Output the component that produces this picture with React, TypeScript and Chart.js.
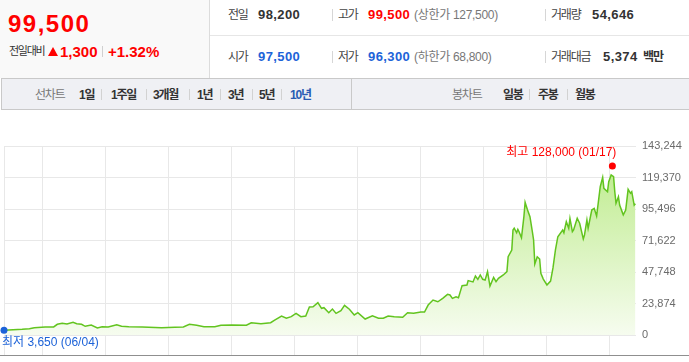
import React, { useEffect, useRef } from "react";
import { Chart, registerables } from "chart.js";

Chart.register(...registerables);

// ---- chart data (x = weeks since the first trading week, y = weekly close, KRW) ----
const weeks = [
  0, 15, 21, 25, 34, 41, 44, 48, 52, 57, 60, 64, 67, 72, 77, 81, 86, 93, 97, 103,
  114, 130, 141, 148, 153, 159, 165, 174, 179, 188, 200, 204, 212, 220, 223, 229, 233, 237, 241, 245,
  249, 252, 255, 259, 262, 264, 268, 271, 274, 278, 281, 285, 289, 292, 298, 304, 309, 313, 317, 322,
  329, 333, 338, 344, 347, 350, 354, 358, 362, 366, 368, 370, 373, 375, 378, 382, 383, 387, 389, 391,
  393, 395, 397, 399, 401, 404, 406, 408, 412, 415, 416, 419, 420, 421, 423, 424, 425, 427, 429, 430,
  432, 434, 436, 437, 438, 440, 442, 443, 445, 448, 451, 453, 455, 457, 461, 462, 464, 466, 467, 469,
  470, 473, 475, 478, 479, 481, 482, 485, 487, 489, 492, 494, 495, 498, 499, 501, 503, 504, 505, 507,
  508, 510, 511, 513, 515, 517, 518, 520, 521,
];
const closes = [
  3650, 4300, 4800, 5500, 6100, 6100, 8100, 8900, 8300, 9600, 8600, 8100, 6600, 7600, 5300, 6300, 6100, 7800, 6600, 6300,
  6100, 5500, 5800, 6100, 8100, 7400, 6300, 6300, 7400, 7600, 7400, 9300, 8600, 9300, 11100, 14400, 12700, 13900, 16400, 13900,
  14400, 21200, 21400, 24500, 20200, 20700, 16900, 19700, 16400, 18400, 22500, 19500, 15200, 16900, 12100, 14600, 12700, 12700, 14400, 13900,
  13400, 16900, 16400, 17400, 17400, 22700, 26500, 25200, 27800, 30800, 30300, 27800, 29000, 28300, 37400, 37900, 41200, 40200, 44700, 42200,
  45500, 42200, 41700, 48000, 37100, 43700, 40400, 43000, 45500, 48000, 59300, 64400, 79600, 80900, 77500, 80100, 78300, 73700, 89700, 100600,
  94700, 89700, 78100, 72000, 53800, 59300, 57600, 46800, 42400, 37900, 40900, 50800, 64400, 74500, 79600, 77500, 85900, 80900, 88400, 78300,
  79600, 88400, 84700, 72800, 75800, 87200, 80900, 94700, 96000, 90200, 112400, 119500, 111200, 108600, 116200, 121300, 120000, 108600, 99800, 104800,
  98500, 93500, 91000, 94700, 110400, 107400, 108600, 98500, 99500,
];
const yTicks = [0, 23874, 47748, 71622, 95496, 119370, 143244];
const yearStartWeeks = [0, 31.5, 83.5, 135.5, 187.5, 239.5, 291.5, 343.5, 395.5, 447.5, 499.5];
const weekSpan = 521.5;
const highWeek = 502;
const highValue = 128000;
const highLabel = "최고 128,000 (01/17)";
const lowWeek = 0;
const lowValue = 3650;
const lowLabel = "최저 3,650 (06/04)";

// ---- header data ----
const headerPrice = "99,500";
const headerChange = "1,300";
const headerRate = "+1.32%";
const rowOne = [
  { label: "전일", value: "98,200", color: "#333" },
  { label: "고가", value: "99,500", color: "#f00", note: "(상한가 127,500)" },
  { label: "거래량", value: "54,646", color: "#333" },
];
const rowTwo = [
  { label: "시가", value: "97,500", color: "#1d63d8" },
  { label: "저가", value: "96,300", color: "#1d63d8", note: "(하한가 68,800)" },
  { label: "거래대금", value: "5,374", color: "#333", unit: "백만" },
];
const lineTabs = ["1일", "1주일", "3개월", "1년", "3년", "5년", "10년"];
const candleTabs = ["일봉", "주봉", "월봉"];

const FONT = '"Liberation Sans", Arial, "Noto Sans CJK KR", sans-serif';
const RED = "#f00";
const BLUE = "#1d63d8";
const LINE_GREEN = "#62c41f";

type TxtProps = {
  x: number;
  cy: number;
  size: number;
  color: string;
  bold?: boolean;
  ls?: number;
  children: React.ReactNode;
};

function Txt({ x, cy, size, color, bold, ls, children }: TxtProps) {
  return (
    <span
      style={{
        position: "absolute",
        left: x,
        top: cy - size / 2,
        fontSize: size,
        lineHeight: `${size}px`,
        height: size,
        color,
        fontWeight: bold ? 700 : 400,
        letterSpacing: ls ?? 0,
        whiteSpace: "nowrap",
        fontFamily: FONT,
      }}
    >
      {children}
    </span>
  );
}

function Sep({ x, top, h, color }: { x: number; top: number; h: number; color?: string }) {
  return (
    <div
      style={{
        position: "absolute",
        left: x,
        top,
        width: 1,
        height: h,
        background: color ?? "#d6d6d6",
      }}
    />
  );
}

const markerLabels = {
  id: "markerLabels",
  afterDatasetsDraw(chart: any) {
    const { ctx, scales } = chart;
    const x = scales.x;
    const y = scales.y;
    ctx.save();
    ctx.font = `12px ${FONT}`;
    ctx.textBaseline = "middle";
    const hx = x.getPixelForValue(highWeek);
    const hy = y.getPixelForValue(highValue);
    ctx.fillStyle = RED;
    ctx.textAlign = "right";
    ctx.fillText(highLabel, hx + 4, hy - 13);
    const lx = x.getPixelForValue(lowWeek);
    const ly = y.getPixelForValue(lowValue);
    ctx.fillStyle = BLUE;
    ctx.textAlign = "left";
    ctx.fillText(lowLabel, lx - 2, ly + 13);
    ctx.restore();
  },
};

function PriceChart() {
  const ref = useRef<HTMLCanvasElement | null>(null);
  useEffect(() => {
    if (!ref.current) return;
    const linePoints = weeks.map((w, i) => ({ x: w, y: closes[i] }));
    const chart = new Chart(ref.current, {
      type: "line",
      data: {
        datasets: [
          {
            type: "scatter",
            data: [{ x: highWeek, y: highValue }],
            pointRadius: 3.5,
            pointBackgroundColor: RED,
            pointBorderWidth: 0,
            clip: false as any,
            order: 0,
          } as any,
          {
            type: "scatter",
            data: [{ x: lowWeek, y: lowValue }],
            pointRadius: 3.5,
            pointBackgroundColor: BLUE,
            pointBorderWidth: 0,
            clip: false as any,
            order: 0,
          } as any,
          {
            type: "line",
            data: linePoints,
            borderColor: LINE_GREEN,
            borderWidth: 1.5,
            pointRadius: 0,
            tension: 0,
            fill: "origin",
            order: 1,
            backgroundColor: (c: any) => {
              const area = c.chart.chartArea;
              if (!area) return "rgba(190,236,140,0.5)";
              const g = c.chart.ctx.createLinearGradient(0, area.top, 0, area.bottom);
              g.addColorStop(0, "#b9ea84");
              g.addColorStop(1, "#f6fcef");
              return g;
            },
          },
        ],
      },
      options: {
        animation: false,
        responsive: false,
        layout: { padding: { left: 2, right: 0, top: 36, bottom: 7 } },
        plugins: { legend: { display: false }, tooltip: { enabled: false } },
        scales: {
          x: {
            type: "linear",
            position: "bottom",
            min: 0,
            max: weekSpan,
            afterBuildTicks: (s: any) => {
              s.ticks = yearStartWeeks.map((v) => ({ value: v }));
            },
            afterFit: (s: any) => {
              s.height = 20;
            },
            ticks: { display: false },
            grid: { color: "#e8e8e8", drawTicks: true, tickLength: 20, lineWidth: 1 },
            border: { display: false },
          },
          y: {
            type: "linear",
            position: "right",
            min: 0,
            max: yTicks[yTicks.length - 1],
            afterBuildTicks: (s: any) => {
              s.ticks = yTicks.map((v) => ({ value: v }));
            },
            afterFit: (s: any) => {
              s.width = 53;
            },
            ticks: {
              padding: 6,
              color: "#6b6b6b",
              font: { size: 11, family: FONT },
              callback: (v: any) => Number(v).toLocaleString("en-US"),
            },
            grid: { color: "#e8e8e8", drawTicks: false },
            border: { display: false },
          },
        },
      },
      plugins: [markerLabels],
    } as any);
    return () => chart.destroy();
  }, []);
  return <canvas ref={ref} width={689} height={252} style={{ display: "block" }} />;
}

export default function App() {
  const rowXs = [
    { label: 228, value: 258, note: 0 },
    { label: 338, value: 368, note: 414 },
    { label: 551, value: 592, note: 0 },
  ];
  const lineTabXs = [79, 111, 153, 197, 228, 259, 290];
  const lineSepXs = [101, 146, 189, 220, 252, 281];
  const candleTabXs = [503, 538, 575];
  const candleSepXs = [529, 567];

  const renderRow = (row: any[], cy: number) =>
    row.map((r, i) => (
      <React.Fragment key={r.label}>
        <Txt x={rowXs[i].label} cy={cy} size={12} color="#444" ls={-1.2}>
          {r.label}
        </Txt>
        <Txt x={i === 2 && r.unit ? 603 : rowXs[i].value} cy={cy} size={13} color={r.color} bold ls={0.4}>
          {r.value}
        </Txt>
        {r.note ? (
          <Txt x={rowXs[i].note} cy={cy} size={12} color="#777" ls={-0.3}>
            {r.note}
          </Txt>
        ) : null}
        {r.unit ? (
          <Txt x={643} cy={cy} size={12} color="#333" bold ls={-1}>
            {r.unit}
          </Txt>
        ) : null}
      </React.Fragment>
    ));

  return (
    <div
      style={{
        position: "absolute",
        left: 0,
        top: 0,
        width: 689,
        height: 362,
        background: "#fff",
        overflow: "hidden",
        fontFamily: FONT,
      }}
    >
      {/* left price panel */}
      <div
        style={{
          position: "absolute",
          left: 0,
          top: 0,
          width: 209,
          height: 78,
          background: "#f9f9f9",
          borderRight: "1px solid #dcdcdc",
        }}
      />
      <Txt x={8} cy={23.5} size={24} color={RED} bold ls={1.5}>
        {headerPrice}
      </Txt>
      <Txt x={9} cy={51.5} size={11} color="#333" ls={-1.3}>
        전일대비
      </Txt>
      <div
        style={{
          position: "absolute",
          left: 48,
          top: 46.5,
          width: 0,
          height: 0,
          borderLeft: "5.5px solid transparent",
          borderRight: "5.5px solid transparent",
          borderBottom: `9.5px solid ${RED}`,
        }}
      />
      <Txt x={60} cy={51.5} size={15} color={RED} bold>
        {headerChange}
      </Txt>
      <Sep x={102} top={46} h={11} color="#d0d0d0" />
      <Txt x={108} cy={51.5} size={15} color={RED} bold>
        {headerRate}
      </Txt>

      {/* right info rows */}
      {renderRow(rowOne, 14.5)}
      <div style={{ position: "absolute", left: 210, top: 35, width: 479, height: 1, background: "#e6e6e6" }} />
      {renderRow(rowTwo, 56.5)}
      <Sep x={332} top={9} h={12} />
      <Sep x={545} top={9} h={12} />
      <Sep x={332} top={51} h={12} />
      <Sep x={545} top={51} h={12} />

      {/* tab bar */}
      <div
        style={{
          position: "absolute",
          left: 1,
          top: 78,
          width: 690,
          height: 32,
          boxSizing: "border-box",
          background: "#eff0f4",
          border: "1px solid #c9c9c9",
        }}
      />
      <Sep x={351} top={79} h={30} color="#c9c9c9" />
      <Txt x={35} cy={94.5} size={12} color="#777" ls={-1.2}>
        선차트
      </Txt>
      {lineTabs.map((t, i) => (
        <Txt key={t} x={lineTabXs[i]} cy={94.5} size={12} color={i === lineTabs.length - 1 ? "#2a5cb3" : "#333"} bold ls={-1.2}>
          {t}
        </Txt>
      ))}
      {lineSepXs.map((x) => (
        <Sep key={x} x={x} top={89} h={11} color="#d2d2d2" />
      ))}
      <Txt x={452} cy={94.5} size={12} color="#777" ls={-1.2}>
        봉차트
      </Txt>
      {candleTabs.map((t, i) => (
        <Txt key={t} x={candleTabXs[i]} cy={94.5} size={12} color="#333" bold ls={-1.2}>
          {t}
        </Txt>
      ))}
      {candleSepXs.map((x) => (
        <Sep key={x} x={x} top={89} h={11} color="#d2d2d2" />
      ))}

      {/* chart */}
      <div style={{ position: "absolute", left: 0, top: 110, width: 689, height: 252 }}>
        <PriceChart />
      </div>
      <div style={{ position: "absolute", left: 0, top: 355, width: 689, height: 1, background: "#8f8f8f" }} />
    </div>
  );
}
